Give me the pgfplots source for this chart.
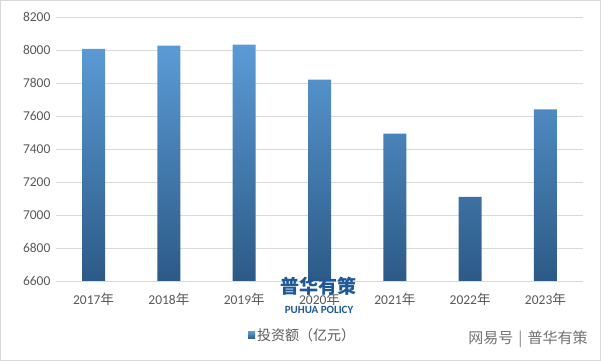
\documentclass[border=0pt]{standalone}
\usepackage{fontspec}
\setmainfont{Carlito}
\newfontfamily\cjk{Noto Sans CJK SC}
\usepackage{pgfplots}
\pgfplotsset{compat=1.18}
\definecolor{bartop}{HTML}{5B9BD5}
\definecolor{barbot}{HTML}{2C5A87}
\definecolor{barmid}{HTML}{3F78B0}
\definecolor{gridc}{HTML}{D9D9D9}
\definecolor{txt}{HTML}{595959}
\definecolor{wm}{HTML}{1F5896}
\begin{document}
\begin{tikzpicture}[x=1pt,y=1pt]
\draw[gridc, line width=0.8pt] (0.5,0.5) rectangle (600.5,360.5);
\begin{axis}[at={(56pt,80pt)}, anchor=south west, scale only axis,
  width=527pt, height=264pt,
  xmin=-0.5, xmax=6.5, ymin=6600, ymax=8200,
  y coord trafo/.code={\pgfmathparse{#1-6600}},
  y coord inv trafo/.code={\pgfmathparse{#1+6600}},
  ytick={6600,6800,7000,7200,7400,7600,7800,8000,8200},
  xtick={0,1,2,3,4,5,6},
  xticklabels={2017{\cjk 年},2018{\cjk 年},2019{\cjk 年},2020{\cjk 年},2021{\cjk 年},2022{\cjk 年},2023{\cjk 年}},
  axis line style={draw=none}, major tick length=0pt,
  ymajorgrids, grid style={gridc, line width=0.8pt},
  tick label style={font=\fontsize{13.5}{15}\selectfont, text=txt},
  /pgf/number format/assume math mode=true,
  /pgf/number format/set thousands separator={},
  /pgf/number format/fixed,
  yticklabel style={xshift=-2pt},
  xticklabel style={yshift=-9pt},
  legend style={at={(0.468,-0.205)}, anchor=center, draw=none, fill=none,
    font=\fontsize{14}{15}\selectfont\cjk, text=txt},
  legend image code/.code={\fill[barmid] (0pt,-3.5pt) rectangle (7pt,3.5pt);},
]
\addplot[ybar, bar width=23pt, draw=none, top color=bartop, bottom color=barbot]
  coordinates {(0,8006) (1,8026) (2,8032) (3,7820) (4,7493) (5,7110) (6,7640)};
\addlegendentry{投资额（亿元）}
\end{axis}
\node[text=wm, font=\cjk\bfseries\fontsize{19}{20}\selectfont] at (318.5,75) {普华有策};
\node[text=wm, font=\bfseries\fontsize{11}{12}\selectfont] at (319,51) {PUHUA POLICY};
\node[anchor=east, text=txt!85, font=\cjk\fontsize{15}{16}\selectfont] at (591,22) {网易号\hspace{5pt}{\color{gridc!60!black}|}\hspace{5pt}普华有策};
\end{tikzpicture}
\end{document}
